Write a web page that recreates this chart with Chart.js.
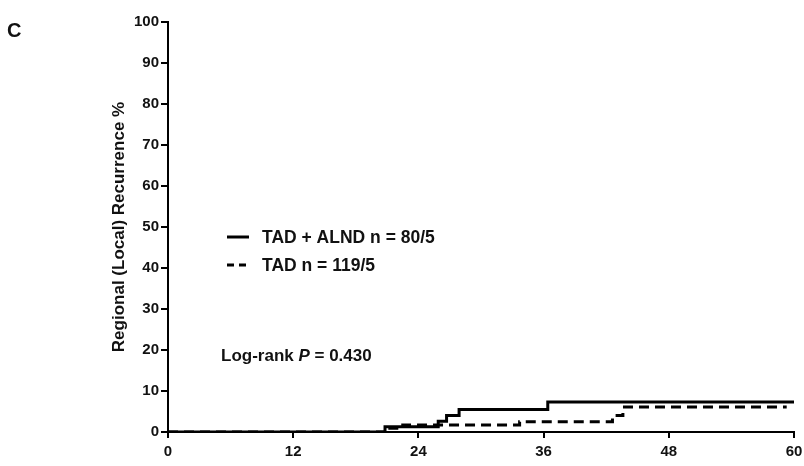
<!DOCTYPE html>
<html>
<head>
<meta charset="utf-8">
<script src="https://cdn.jsdelivr.net/npm/chart.js@4/dist/chart.umd.min.js"></script>
<style>
  html, body { margin: 0; padding: 0; background: #fff; }
  #wrap { width: 804px; height: 466px; position: relative; }
</style>
</head>
<body>
<div id="wrap"><canvas id="graph" width="804" height="466"></canvas></div>
<script>
// months / cumulative recurrence %
const alndTimes = [0, 20.8, 25.9, 26.7, 27.9, 36.4, 60];
const alndValues = [0, 1.3, 2.6, 4.0, 5.5, 7.3, 7.3];
const tadTimes = [0, 21.0, 22.5, 33.7, 42.6, 43.6, 59.3];
const tadValues = [0, 0.9, 1.7, 2.5, 4.0, 6.1, 6.1];

const seriesLabels = ["TAD + ALND n = 80/5", "TAD n = 119/5"];
const xTicks = [0, 12, 24, 36, 48, 60];
const yTitle = "Regional (Local) Recurrence %";
const panelLetter = "C";
const pValueText = "0.430";

const toPoints = (xs, ys) => xs.map((x, i) => ({ x, y: ys[i] }));

const ctx = document.getElementById("graph").getContext("2d");

const chart = new Chart(ctx, {
  type: "line",
  data: {
    datasets: [
      {
        label: seriesLabels[0],
        data: toPoints(alndTimes, alndValues),
        borderColor: "#000",
        borderWidth: 3,
        stepped: true,
        pointRadius: 0,
        fill: false
      },
      {
        label: seriesLabels[1],
        data: toPoints(tadTimes, tadValues),
        borderColor: "#000",
        borderWidth: 3,
        borderDash: [10, 6],
        stepped: true,
        pointRadius: 0,
        fill: false
      }
    ]
  },
  options: {
    responsive: false,
    animation: false,
    layout: { padding: { left: 0, top: 22, right: 10, bottom: 0 } },
    scales: {
      x: {
        type: "linear",
        min: 0,
        max: 60,
        afterBuildTicks(scale) {
          scale.ticks = xTicks.map(v => ({ value: v }));
        },
        afterFit(scale) {
          scale.height = 34;
          scale.paddingRight = 0;
          scale.paddingLeft = 0;
        },
        ticks: {
          color: "#111",
          font: { family: "Arial, Liberation Sans", size: 15, weight: "bold" },
          padding: 5,
          maxRotation: 0
        },
        grid: { drawOnChartArea: false, drawTicks: true, tickLength: 6, color: "#000", lineWidth: 2 },
        border: { color: "#000", width: 2 }
      },
      y: {
        min: 0,
        max: 100,
        afterFit(scale) { scale.width = 168; },
        ticks: {
          stepSize: 10,
          color: "#111",
          font: { family: "Arial, Liberation Sans", size: 15, weight: "bold" },
          padding: 2
        },
        title: {
          display: true,
          text: yTitle,
          color: "#111",
          font: { family: "Arial, Liberation Sans", size: 17, weight: "bold" },
          padding: { top: 109, bottom: 0 }
        },
        grid: { drawOnChartArea: false, drawTicks: true, tickLength: 7, color: "#000", lineWidth: 2 },
        border: { color: "#000", width: 2 }
      }
    },
    plugins: {
      legend: { display: false },
      tooltip: { enabled: false }
    }
  },
  plugins: [{
    id: "kmLabels",
    afterDraw(chart) {
      const { ctx } = chart;
      ctx.save();
      ctx.fillStyle = "#111";
      ctx.textBaseline = "middle";
      ctx.textAlign = "left";

      // panel letter
      ctx.font = "bold 20px Arial, Liberation Sans";
      ctx.fillText(panelLetter, 7, 31);

      // legend
      ctx.strokeStyle = "#000";
      ctx.lineWidth = 3;
      ctx.beginPath();
      ctx.moveTo(227, 237);
      ctx.lineTo(249, 237);
      ctx.stroke();
      ctx.setLineDash([7, 5]);
      ctx.beginPath();
      ctx.moveTo(227, 265);
      ctx.lineTo(250, 265);
      ctx.stroke();
      ctx.setLineDash([]);

      ctx.font = "bold 17.5px Arial, Liberation Sans";
      ctx.fillText(seriesLabels[0], 262, 238);
      ctx.fillText(seriesLabels[1], 262, 266);

      // log-rank annotation
      let x = 221;
      const y = 356;
      ctx.font = "bold 17px Arial, Liberation Sans";
      ctx.fillText("Log-rank ", x, y);
      x += ctx.measureText("Log-rank ").width;
      ctx.font = "italic bold 17px Arial, Liberation Sans";
      ctx.fillText("P", x, y);
      x += ctx.measureText("P").width;
      ctx.font = "bold 17px Arial, Liberation Sans";
      ctx.fillText(" = " + pValueText, x, y);
      ctx.restore();
    }
  }]
});
</script>
</body>
</html>
